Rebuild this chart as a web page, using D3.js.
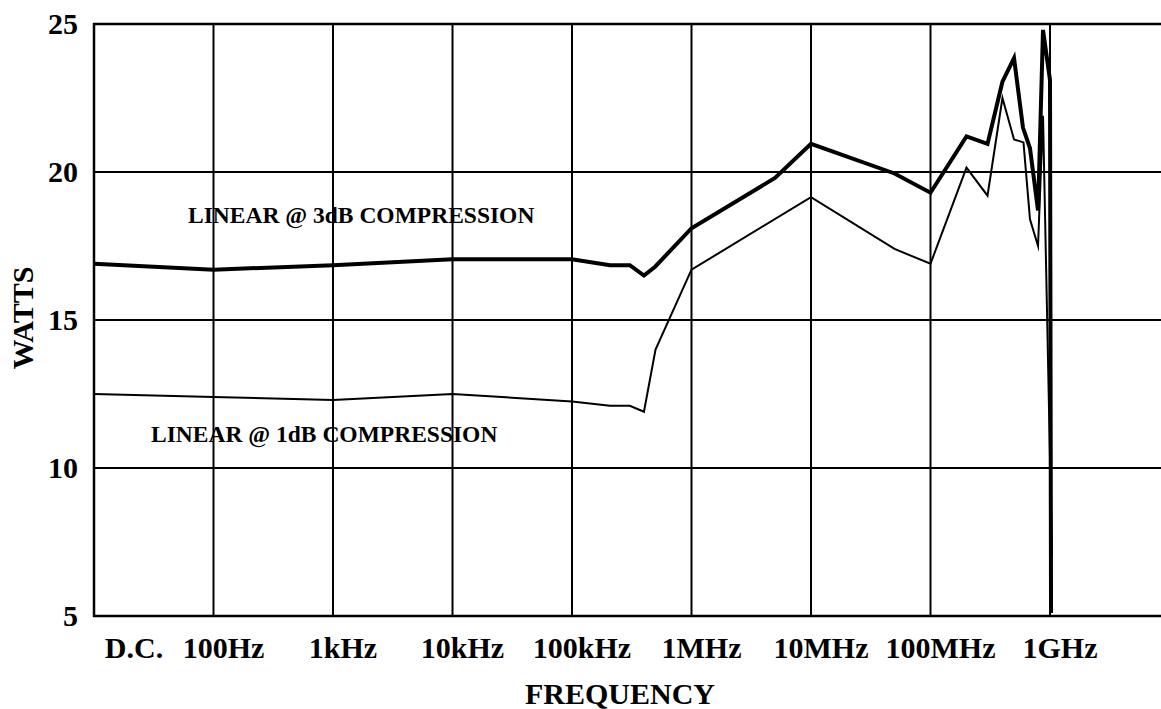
<!DOCTYPE html>
<meta charset="utf-8">
<style>
    body { margin: 0; background: #fff; }
    text {
        font-family: "Liberation Serif", "Times New Roman", serif;
        font-weight: bold;
        fill: #000;
    }
    .grid line { stroke: #000; stroke-width: 2px; }
    .frame { stroke: #000; stroke-width: 2.5px; fill: none; }
    .curve { fill: none; stroke: #000; stroke-linejoin: miter; stroke-miterlimit: 10; }
</style>
<svg id="svg" width="1161" height="709"></svg>
<script src="https://d3js.org/d3.v7.min.js"></script>
<script>

    // frequency axis: D.C. is drawn at the 10 Hz position (left edge)
    var tickValues = [100, 1e3, 1e4, 1e5, 1e6, 1e7, 1e8, 1e9];
    var tickLabels = ["100Hz", "1kHz", "10kHz", "100kHz", "1MHz", "10MHz", "100MHz", "1GHz"];
    var wattTicks = [5, 10, 15, 20, 25];

    // LINEAR @ 3dB COMPRESSION (thick line)
    var freq3dB = [10, 100, 1e3, 1e4, 1e5, 2.08e5, 3.05e5, 4.0e5, 4.96e5, 1e6, 5.0e6, 1e7,
                   5.0e7, 1e8, 2.0e8, 3.0e8, 4.0e8, 5.0e8, 5.94e8, 6.8e8, 7.94e8, 8.74e8, 1.0e9, 1.02e9];
    var watts3dB = [16.9, 16.7, 16.85, 17.05, 17.05, 16.85, 16.85, 16.5, 16.8, 18.1, 19.8, 20.95,
                    19.95, 19.3, 21.2, 20.95, 23.05, 23.85, 21.5, 20.8, 18.7, 24.8, 23.1, 5.1];

    // LINEAR @ 1dB COMPRESSION (thin line)
    var freq1dB = [10, 100, 1e3, 1e4, 1e5, 2.08e5, 3.05e5, 4.0e5, 5.0e5, 1e6, 1e7,
                   5.0e7, 1e8, 2.0e8, 3.0e8, 4.0e8, 5.0e8, 6.0e8, 6.8e8, 7.94e8, 8.74e8, 1.04e9];
    var watts1dB = [12.5, 12.4, 12.3, 12.5, 12.25, 12.1, 12.1, 11.9, 14.0, 16.7, 19.15,
                    17.4, 16.9, 20.15, 19.2, 22.5, 21.1, 21.0, 18.4, 17.5, 21.9, 7.0];

    var svg = d3.select("svg"),
        width = +svg.attr("width");

    var plotLeft = 94, plotTop = 24, plotBottom = 616, plotRight = width;

    var x = d3.scaleLog().domain([10, 1e9]).range([plotLeft, 1050]);
    var y = d3.scaleLinear().domain([5, 25]).range([plotBottom, plotTop]);

    // series labels sit under the grid
    svg.append("text").attr("x", 188).attr("y", 223).style("font-size", "23.5px")
        .text("LINEAR @ 3dB COMPRESSION");
    svg.append("text").attr("x", 151).attr("y", 442).style("font-size", "23.5px")
        .text("LINEAR @ 1dB COMPRESSION");

    var grid = svg.append("g").attr("class", "grid");
    grid.selectAll(".v").data(tickValues).enter().append("line")
        .attr("x1", d => x(d)).attr("x2", d => x(d))
        .attr("y1", plotTop).attr("y2", plotBottom);
    grid.selectAll(".h").data([10, 15, 20]).enter().append("line")
        .attr("x1", plotLeft).attr("x2", plotRight)
        .attr("y1", d => y(d)).attr("y2", d => y(d));

    svg.append("path").attr("class", "frame")
        .attr("d", "M" + plotRight + "," + plotTop + "H" + plotLeft + "V" + plotBottom + "H" + plotRight);

    // tick labels
    svg.append("g").selectAll("text").data(tickValues).enter().append("text")
        .attr("x", d => x(d) + 10).attr("y", 658)
        .attr("text-anchor", "middle").style("font-size", "30px")
        .text((d, i) => tickLabels[i]);
    svg.append("text").attr("x", x(10) + 40).attr("y", 658)
        .attr("text-anchor", "middle").style("font-size", "30px").text("D.C.");

    svg.append("g").selectAll("text").data(wattTicks).enter().append("text")
        .attr("x", 78).attr("y", d => y(d) + 10)
        .attr("text-anchor", "end").style("font-size", "30px")
        .text(d => d);

    svg.append("text").attr("transform", "translate(33,318) rotate(-90)")
        .attr("text-anchor", "middle").style("font-size", "30px").text("WATTS");
    svg.append("text").attr("x", 620).attr("y", 704)
        .attr("text-anchor", "middle").style("font-size", "30px").text("FREQUENCY");

    var line = d3.line().x(d => x(d[0])).y(d => y(d[1]));

    svg.append("path").attr("class", "curve").attr("stroke-width", 2)
        .attr("d", line(d3.zip(freq1dB, watts1dB)));
    svg.append("path").attr("class", "curve").attr("stroke-width", 4)
        .attr("d", line(d3.zip(freq3dB, watts3dB)));

</script>
